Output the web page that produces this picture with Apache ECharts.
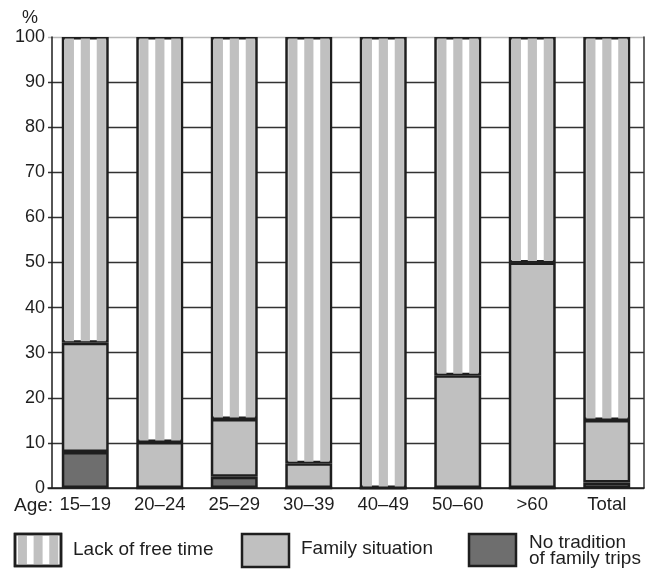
<!DOCTYPE html>
<html>
<head>
<meta charset="utf-8">
<script src="https://cdn.jsdelivr.net/npm/echarts@6/dist/echarts.min.js"></script>
<style>
html,body{margin:0;padding:0;background:#fff;}
#c{width:652px;height:569px;}
</style>
</head>
<body>
<div id="c"></div>
<script>
// ---- data ----
var categories = ['15–19', '20–24', '25–29', '30–39', '40–49', '50–60', '>60', 'Total'];
var noTradition = [8, 0, 2.5, 0, 0, 0, 0, 1.2];
var familySituation = [24.2, 10.2, 12.8, 5.5, 0, 25, 50, 13.9];
var yTicks = [0, 10, 20, 30, 40, 50, 60, 70, 80, 90, 100];
var legendNames = ['Lack of free time', 'Family situation', 'No tradition\nof family trips'];

var lackOfTime = categories.map(function (c, i) {
  return +(100 - noTradition[i] - familySituation[i]).toFixed(2);
});
var stripeData = categories.map(function (c, i) {
  return [i, noTradition[i] + familySituation[i], 100];
});

var FONT = '"Liberation Sans", Arial, sans-serif';
var INK = '#1e1e1e';
var LIGHT = '#c0c0c0';
var DARK = '#6e6e6e';
var BAR_RATIO = 0.63;

var chart = echarts.init(document.getElementById('c'), null, {renderer: 'canvas'});

var border = {borderColor: INK, borderWidth: 2.5};

function stripeRects(x0, w, yTop, h) {
  var out = [];
  for (var k = 0; k < 3; k++) {
    out.push({
      type: 'rect',
      shape: {x: x0 + w * (3 + 16 * k) / 47, y: yTop, width: w * 9.2 / 47, height: h},
      style: {fill: LIGHT}
    });
  }
  return out;
}

var splitColors = yTicks.map(function (t) { return t === 100 ? '#b8b8b8' : '#333'; });

var option = {
  animation: false,
  backgroundColor: '#fff',
  textStyle: {fontFamily: FONT},
  grid: {left: 48, right: 8, top: 37, bottom: 81, containLabel: false},
  xAxis: {
    type: 'category',
    data: categories,
    axisLine: {show: true, lineStyle: {color: INK, width: 1.5}},
    axisTick: {show: false},
    axisLabel: {interval: 0, margin: 7, fontSize: 18.5, color: INK, fontFamily: FONT}
  },
  yAxis: [{
    type: 'value',
    min: 0, max: 100, interval: 10,
    offset: -4,
    axisLine: {show: true, lineStyle: {color: INK, width: 1.5}},
    axisTick: {show: false},
    axisLabel: {margin: 7, fontSize: 18, color: INK, fontFamily: FONT},
    splitLine: {show: true, lineStyle: {color: splitColors, width: 1.4}}
  }, {
    type: 'value',
    position: 'right',
    min: 0, max: 100, interval: 10,
    axisLine: {show: true, lineStyle: {color: '#333', width: 1.5}},
    axisTick: {show: false},
    axisLabel: {show: false},
    splitLine: {show: false}
  }],
  series: [{
    name: 'No tradition of family trips',
    type: 'bar', stack: 's', barWidth: (BAR_RATIO * 100) + '%',
    data: noTradition,
    itemStyle: Object.assign({color: DARK}, border)
  }, {
    name: 'Family situation',
    type: 'bar', stack: 's', barWidth: (BAR_RATIO * 100) + '%',
    data: familySituation,
    itemStyle: Object.assign({color: LIGHT}, border)
  }, {
    name: 'Lack of free time',
    type: 'bar', stack: 's', barWidth: (BAR_RATIO * 100) + '%',
    data: lackOfTime,
    itemStyle: Object.assign({color: '#fff'}, border)
  }, {
    name: 'stripes',
    type: 'custom',
    coordinateSystem: 'cartesian2d',
    xAxisIndex: 0,
    yAxisIndex: 0,
    z: 10,
    clip: false,
    dimensions: ['cat', 'lo', 'hi'],
    encode: {x: 0, y: [1, 2]},
    data: stripeData,
    silent: true,
    renderItem: function (params, api) {
      var i = api.value(0), lo = api.value(1), hi = api.value(2);
      var pTop = api.coord([i, hi]);
      var pBot = api.coord([i, lo]);
      var bw = api.size([1, 0])[0] * BAR_RATIO;
      var left = pTop[0] - bw / 2;
      var y0 = pTop[1] + 1.5;
      var h = pBot[1] - pTop[1] - 3;
      return {type: 'group', children: stripeRects(left, bw, y0, h)};
    }
  }],
  graphic: [
    {type: 'text', left: 22, top: 9, style: {text: '%', font: '18px ' + FONT, fill: INK}},
    {type: 'text', x: 14, y: 496, style: {text: 'Age:', font: '19px ' + FONT, fill: INK, textAlign: 'left', textVerticalAlign: 'top'}},
    // legend item 1
    {type: 'rect', shape: {x: 15, y: 534, width: 46, height: 32}, style: {fill: '#fff', stroke: INK, lineWidth: 2.5}},
    {type: 'group', children: stripeRects(15, 46, 535, 30)},
    {type: 'rect', shape: {x: 15, y: 534, width: 46, height: 32}, style: {fill: 'none', stroke: INK, lineWidth: 2.5}},
    {type: 'text', x: 73, y: 550, style: {text: legendNames[0], font: '19px ' + FONT, fill: INK, textVerticalAlign: 'middle'}},
    // legend item 2
    {type: 'rect', shape: {x: 242, y: 534, width: 47, height: 33}, style: {fill: LIGHT, stroke: INK, lineWidth: 2.5}},
    {type: 'text', x: 301, y: 549, style: {text: legendNames[1], font: '19px ' + FONT, fill: INK, textVerticalAlign: 'middle'}},
    // legend item 3
    {type: 'rect', shape: {x: 469, y: 534, width: 47, height: 32}, style: {fill: DARK, stroke: INK, lineWidth: 2.5}},
    {type: 'text', x: 529, y: 551, style: {text: legendNames[2], font: '19px ' + FONT, fill: INK, textVerticalAlign: 'middle', lineHeight: 16}}
  ]
};

chart.setOption(option);
</script>
</body>
</html>
